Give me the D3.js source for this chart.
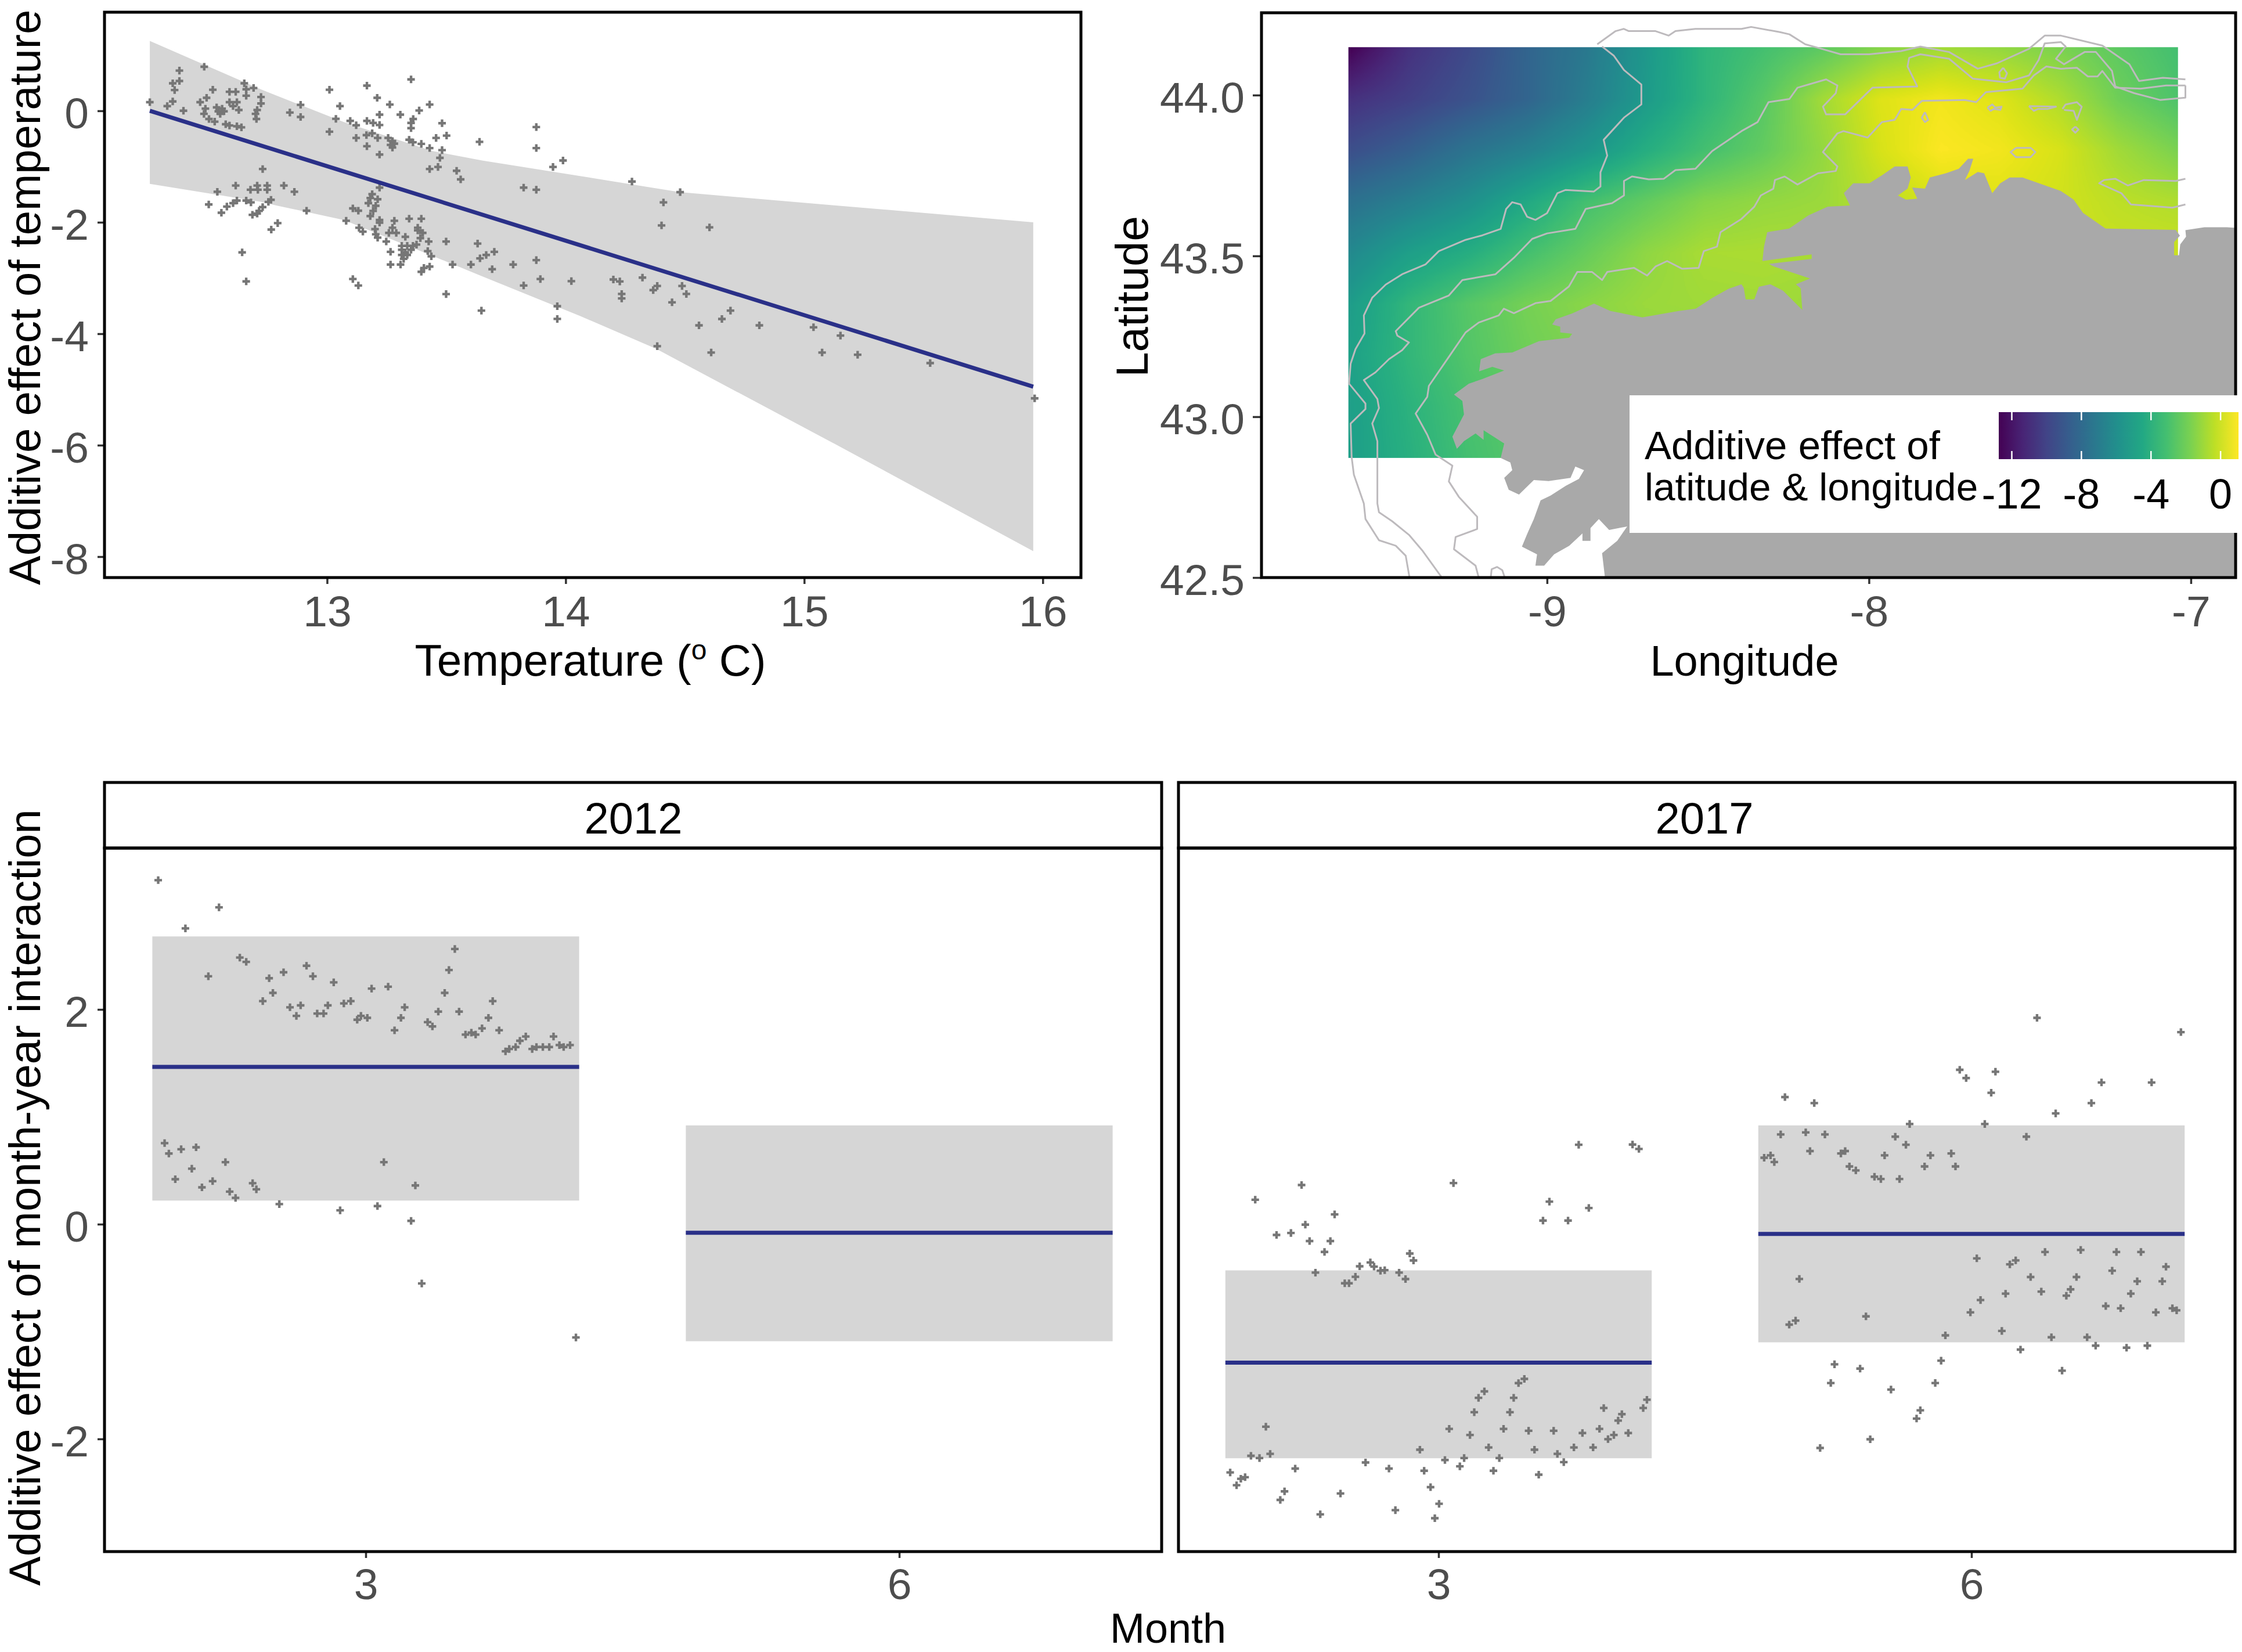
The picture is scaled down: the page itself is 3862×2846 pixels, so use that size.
<!DOCTYPE html>
<html>
<head>
<meta charset="utf-8">
<script src="https://cdn.jsdelivr.net/npm/d3@7"></script>
<style>
html,body{margin:0;padding:0;background:#fff}
svg{display:block}
text{font-family:"Liberation Sans",Arial,sans-serif}
</style>
</head>
<body>
<div id="chart"></div>
<script>
// ---------- Temperature panel ----------
const tempTicksX = [13,14,15,16];
const tempTicksY = [0,-2,-4,-6,-8];
const tempRibbonT = [12.257,12.72,12.79,13.07,13.44,13.65,14.06,14.38,14.48,15.125,15.96];
const tempRibbonUpper = [1.255,0.39,0.27,-0.2,-0.72,-0.89,-1.17,-1.39,-1.46,-1.695,-2.0];
const tempRibbonLower = [-1.31,-1.63,-1.70,-1.96,-2.6,-2.97,-3.68,-4.27,-4.5,-5.97,-7.9];
const tempLineT = [12.257,15.96];
const tempLineV = [0,-4.95];
const tempPoints = [[12.257,.155],[12.33,.085],[12.353,.169],[12.361,.373],[12.353,.494],[12.381,.722],[12.381,.536],[12.398,.002],[12.485,.791],[12.468,.155],[12.495,.234],[12.521,.378],[12.49,.039],[12.484,-.054],[12.505,-.147],[12.529,-.194],[12.544,-.008],[12.56,.039],[12.552,-.054],[12.568,-.008],[12.537,.062],[12.575,-.24],[12.591,-.263],[12.622,-.277],[12.641,-.296],[12.591,.341],[12.617,.341],[12.591,.155],[12.622,.155],[12.606,.085],[12.63,.015],[12.653,.494],[12.661,.387],[12.661,.271],[12.692,.41],[12.723,.248],[12.723,.132],[12.707,.015],[12.7,-.054],[12.704,-.147],[12.844,-.031],[12.889,.108],[12.889,-.11],[13.01,.378],[13.054,.085],[13.037,-.143],[13.01,-.375],[13.097,-.18],[13.122,-.259],[13.122,-.486],[13.167,.452],[13.21,.234],[13.167,-.18],[13.193,-.217],[13.22,-.254],[13.22,-.068],[13.263,.113],[13.307,-.068],[13.352,.564],[13.361,-.147],[13.352,-.217],[13.352,-.31],[13.386,.006],[13.43,.113],[13.482,-.222],[13.501,-.444],[13.457,-.486],[13.165,-.435],[13.189,-.403],[13.212,-.486],[13.167,-.635],[13.256,-.486],[13.274,-.542],[13.266,-.612],[13.282,-.589],[13.274,-.658],[13.22,-.784],[13.344,-.519],[13.36,-.565],[13.395,-.593],[13.43,-.668],[13.482,-.705],[13.473,-.844],[13.465,-1.007],[13.43,-1.044],[13.543,-1.076],[13.56,-1.23],[13.639,-.556],[13.877,-.291],[13.877,-.668],[13.947,-1.007],[13.989,-.891],[13.824,-1.378],[13.877,-1.416],
[12.73,-1.044],[12.617,-1.341],[12.54,-1.453],[12.679,-1.416],[12.707,-1.341],[12.71,-1.416],[12.749,-1.341],[12.749,-1.416],[12.819,-1.341],[12.863,-1.453],[12.504,-1.68],[12.622,-1.61],[12.606,-1.657],[12.58,-1.718],[12.557,-1.829],[12.661,-1.61],[12.681,-1.643],[12.765,-1.597],[12.754,-1.634],[12.73,-1.727],[12.715,-1.796],[12.707,-1.843],[12.687,-1.866],[12.914,-1.792],[12.793,-2.015],[12.766,-2.131],[12.644,-2.54],[12.661,-3.06],[13.22,-1.378],[13.189,-1.495],[13.181,-1.564],[13.173,-1.657],[13.212,-1.587],[13.204,-1.704],[13.193,-1.796],[13.181,-1.889],[13.108,-1.75],[13.131,-1.792],[13.08,-1.973],[13.134,-2.098],[13.15,-2.168],[13.22,-1.959],[13.22,-2.006],[13.282,-1.973],[13.344,-1.936],[13.395,-1.936],[13.201,-2.122],[13.204,-2.215],[13.212,-2.275],[13.248,-2.345],[13.259,-2.191],[13.274,-2.098],[13.29,-2.191],[13.38,-2.098],[13.38,-2.145],[13.401,-2.191],[13.391,-2.284],[13.328,-2.261],[13.375,-2.4],[13.426,-2.345],[13.313,-2.424],[13.336,-2.424],[13.36,-2.424],[13.313,-2.493],[13.328,-2.54],[13.352,-2.493],[13.266,-2.53],[13.313,-2.586],[13.336,-2.586],[13.321,-2.656],[13.266,-2.758],[13.308,-2.758],[13.422,-2.517],[13.437,-2.61],[13.395,-2.888],[13.406,-2.819],[13.43,-2.795],[13.499,-2.345],[13.526,-2.758],[13.499,-3.288],[13.603,-2.758],[13.631,-2.382],[13.641,-2.647],[13.667,-2.586],[13.701,-2.53],[13.692,-2.842],[13.78,-2.758],[13.877,-2.679],[13.894,-3.018],[13.824,-3.134],[14.024,-3.056],[13.647,-3.585],[13.965,-3.506],[13.965,-3.734],[13.108,-3.018],[13.131,-3.134],
[14.278,-1.269],[14.48,-1.459],[14.41,-1.643],[14.402,-2.056],[14.603,-2.091],[14.2,-3.027],[14.227,-3.062],[14.322,-2.993],[14.235,-3.286],[14.235,-3.366],[14.384,-3.142],[14.367,-3.217],[14.488,-3.142],[14.506,-3.286],[14.446,-3.436],[14.691,-3.585],[14.655,-3.735],[14.559,-3.849],[14.812,-3.849],[15.039,-3.884],[15.152,-4.033],[14.384,-4.223],[14.61,-4.337],[15.075,-4.337],[15.224,-4.377],[15.528,-4.526],[15.966,-5.159]];

// ---------- Map panel ----------
const mapTicksLon = [-9,-8,-7];
const mapTicksLat = [42.5,43.0,43.5,44.0];
const legendTicks = [-12,-8,-4,0];
const rasterLon = [-9.617,-7.04];
const rasterLat = [44.149,42.872];
const fieldValues = [
[-12.75,-10.82,-9.72,-8.34,-7.24,-5.45,-3.79,-3.10,-2.42,-1.45,-0.90,-1.18,-1.73,-2.42,-3.10],
[-10.82,-10.13,-9.30,-8.34,-6.96,-5.31,-3.79,-2.55,-0.90,0.34,0.75,0.34,-0.62,-2.00,-2.83],
[-9.44,-8.62,-7.51,-6.69,-5.58,-4.21,-3.10,-2.28,-1.18,0.20,0.96,0.75,0.20,-0.90,-1.73],
[-7.65,-6.82,-5.86,-4.48,-3.10,-2.30,-1.50,-1.20,-1.04,-0.35,0.20,0.34,0.07,-0.35,-0.62],
[-6.27,-5.03,-4.21,-3.10,-2.20,-1.30,-0.75,-0.70,-0.75,-0.76,-0.35,-0.07,-0.07,-0.07,-0.07],
[-5.17,-3.66,-2.60,-1.85,-1.40,-1.05,-0.95,-0.90,-1.04,-0.90,-0.62,-0.35,-0.35,-0.35,-0.35],
[-4.90,-3.66,-2.70,-2.00,-1.60,-1.30,-1.31,-1.18,-1.04,-0.90,-0.62,-0.35,-0.35,-0.35,-0.35],
[-5.03,-3.93,-2.97,-2.42,-2.00,-1.73,-1.50,-1.50,-1.50,-1.50,-1.50,-1.50,-1.50,-1.50,-1.50],
[-5.03,-4.07,-3.10,-2.55,-2.28,-2.00,-1.80,-1.80,-1.80,-1.80,-1.80,-1.80,-1.80,-1.80,-1.80]];
const landOutline = [[-8.82,42.5],[-8.829,42.576],[-8.782,42.614],[-8.751,42.659],[-8.807,42.648],[-8.839,42.682],[-8.865,42.654],[-8.865,42.614],[-8.89,42.614],[-8.89,42.637],[-8.931,42.599],[-8.978,42.572],[-9.009,42.537],[-9.036,42.537],[-9.031,42.572],[-9.078,42.596],[-9.061,42.637],[-9.041,42.682],[-9.02,42.74],[-8.989,42.755],[-8.942,42.785],[-8.901,42.807],[-8.885,42.834],[-8.912,42.845],[-8.927,42.81],[-8.995,42.8],[-9.041,42.803],[-9.087,42.758],[-9.119,42.773],[-9.133,42.81],[-9.108,42.834],[-9.114,42.858],[-9.144,42.872],[-9.133,42.917],[-9.197,42.958],[-9.197,42.928],[-9.222,42.948],[-9.258,42.924],[-9.28,42.9],[-9.294,42.938],[-9.258,43.007],[-9.263,43.049],[-9.289,43.069],[-9.243,43.103],[-9.201,43.117],[-9.133,43.144],[-9.17,43.155],[-9.211,43.141],[-9.206,43.179],[-9.161,43.197],[-9.108,43.2],[-9.025,43.235],[-8.931,43.246],[-8.922,43.258],[-8.959,43.262],[-8.959,43.28],[-8.984,43.287],[-8.973,43.303],[-8.922,43.321],[-8.854,43.352],[-8.803,43.329],[-8.704,43.309],[-8.591,43.329],[-8.538,43.336],[-8.486,43.37],[-8.436,43.398],[-8.396,43.412],[-8.389,43.401],[-8.383,43.365],[-8.356,43.365],[-8.342,43.404],[-8.306,43.412],[-8.267,43.392],[-8.207,43.332],[-8.212,43.399],[-8.227,43.412],[-8.183,43.43],[-8.297,43.468],[-8.311,43.475],[-8.178,43.491],[-8.178,43.505],[-8.331,43.484],[-8.326,43.529],[-8.316,43.574],[-8.248,43.585],[-8.188,43.626],[-8.128,43.653],[-8.059,43.657],[-8.078,43.695],[-8.049,43.726],[-7.999,43.726],[-7.959,43.751],[-7.92,43.778],[-7.88,43.778],[-7.87,43.744],[-7.88,43.709],[-7.91,43.688],[-7.885,43.675],[-7.85,43.678],[-7.866,43.713],[-7.826,43.709],[-7.811,43.744],[-7.761,43.757],[-7.721,43.771],[-7.692,43.802],[-7.676,43.802],[-7.688,43.764],[-7.702,43.736],[-7.662,43.761],[-7.642,43.757],[-7.617,43.695],[-7.592,43.726],[-7.563,43.744],[-7.523,43.744],[-7.404,43.702],[-7.364,43.675],[-7.335,43.634],[-7.265,43.585],[-7.047,43.581],[-7.034,43.563],[-7.052,43.543],[-7.052,43.502],[-7.037,43.502],[-7.033,43.536],[-7.015,43.56],[-7.017,43.58],[-6.958,43.589],[-6.888,43.589],[-6.827,43.585],[-6.827,42.5]];
const depthA = [[-8.844,44.158],[-8.787,44.199],[-8.762,44.206],[-8.746,44.199],[-8.663,44.199],[-8.622,44.185],[-8.601,44.199],[-8.539,44.206],[-8.396,44.206],[-8.366,44.212],[-8.277,44.196],[-8.247,44.189],[-8.198,44.158],[-8.158,44.147],[-8.088,44.127],[-7.999,44.127],[-7.9,44.137],[-7.84,44.151],[-7.751,44.134],[-7.662,44.082],[-7.602,44.099],[-7.503,44.144],[-7.454,44.185],[-7.404,44.185],[-7.275,44.154],[-7.191,44.096],[-7.161,44.044],[-7.087,44.054],[-7.017,44.049]];
const depthB = [[-8.829,44.151],[-8.793,44.123],[-8.761,44.078],[-8.707,44.033],[-8.707,43.971],[-8.761,43.93],[-8.824,43.861],[-8.813,43.812],[-8.834,43.76],[-8.834,43.716],[-8.855,43.7],[-8.943,43.705],[-8.968,43.695],[-9.0,43.633],[-9.036,43.612],[-9.062,43.622],[-9.082,43.66],[-9.108,43.667],[-9.127,43.646],[-9.144,43.584],[-9.201,43.564],[-9.253,43.55],[-9.336,43.515],[-9.377,43.474],[-9.45,43.443],[-9.501,43.411],[-9.543,43.37],[-9.569,43.315],[-9.567,43.259],[-9.595,43.21],[-9.61,43.165],[-9.615,43.103],[-9.564,43.041],[-9.564,43.024],[-9.61,42.979],[-9.607,42.875],[-9.6,42.82],[-9.569,42.73],[-9.564,42.682],[-9.522,42.616],[-9.47,42.599],[-9.439,42.568],[-9.427,42.499]];
const depthC = [[-9.326,42.499],[-9.388,42.585],[-9.429,42.633],[-9.481,42.675],[-9.522,42.703],[-9.527,42.73],[-9.527,42.924],[-9.543,42.979],[-9.522,43.027],[-9.527,43.055],[-9.569,43.114],[-9.533,43.138],[-9.491,43.179],[-9.45,43.207],[-9.429,43.231],[-9.465,43.252],[-9.47,43.266],[-9.398,43.339],[-9.305,43.377],[-9.263,43.425],[-9.16,43.443],[-9.103,43.494],[-9.046,43.553],[-9.0,43.57],[-8.912,43.584],[-8.88,43.646],[-8.798,43.664],[-8.761,43.688],[-8.761,43.733],[-8.736,43.747],[-8.684,43.738],[-8.637,43.74],[-8.601,43.767],[-8.539,43.771],[-8.487,43.826],[-8.396,43.888],[-8.346,43.916],[-8.312,43.978],[-8.247,43.988],[-8.222,44.023],[-8.133,44.049],[-8.098,44.03],[-8.103,44.006],[-8.143,43.964],[-8.133,43.94],[-8.074,43.94],[-7.989,44.023],[-7.85,44.027],[-7.88,44.089],[-7.875,44.116],[-7.84,44.127],[-7.751,44.113],[-7.677,44.051],[-7.573,44.04],[-7.503,44.061],[-7.473,44.109],[-7.454,44.161],[-7.404,44.165],[-7.389,44.151],[-7.419,44.113],[-7.394,44.096],[-7.33,44.134],[-7.295,44.134],[-7.245,44.075],[-7.235,44.027],[-7.176,44.006],[-7.096,43.985],[-7.017,43.992],[-7.017,44.03]];
const depthD = [[-9.212,42.499],[-9.222,42.537],[-9.289,42.588],[-9.284,42.626],[-9.217,42.651],[-9.217,42.689],[-9.274,42.751],[-9.305,42.799],[-9.294,42.848],[-9.346,42.882],[-9.372,42.944],[-9.408,43.01],[-9.372,43.062],[-9.367,43.096],[-9.305,43.186],[-9.253,43.262],[-9.212,43.293],[-9.15,43.315],[-9.134,43.336],[-9.103,43.322],[-9.036,43.353],[-8.989,43.36],[-8.932,43.405],[-8.906,43.45],[-8.86,43.45],[-8.829,43.425],[-8.813,43.45],[-8.73,43.463],[-8.689,43.439],[-8.663,43.467],[-8.627,43.484],[-8.58,43.46],[-8.529,43.463],[-8.513,43.515],[-8.472,43.529],[-8.461,43.574],[-8.396,43.615],[-8.356,43.653],[-8.336,43.688],[-8.297,43.709],[-8.292,43.736],[-8.262,43.747],[-8.222,43.722],[-8.158,43.757],[-8.103,43.764],[-8.098,43.778],[-8.143,43.823],[-8.098,43.881],[-8.079,43.888],[-8.004,43.868],[-7.96,43.916],[-7.92,43.923],[-7.9,43.957],[-7.865,43.954],[-7.836,43.982],[-7.702,43.985],[-7.667,43.978],[-7.637,44.009],[-7.523,44.02],[-7.488,44.061],[-7.449,44.089],[-7.404,44.082],[-7.354,44.085],[-7.32,44.058],[-7.29,44.058],[-7.275,44.075],[-7.235,44.023],[-7.156,44.02],[-7.077,44.03],[-7.017,44.03]];
const depthE = [[-7.017,43.74],[-7.047,43.733],[-7.146,43.736],[-7.196,43.719],[-7.235,43.74],[-7.27,43.736],[-7.285,43.726],[-7.216,43.695],[-7.186,43.66],[-7.057,43.65],[-7.017,43.66]];
const depthIslets = [
[[-7.826,43.947],[-7.816,43.923],[-7.826,43.916],[-7.836,43.93],[-7.826,43.947]],
[[-7.632,43.961],[-7.617,43.971],[-7.607,43.961],[-7.588,43.964],[-7.592,43.954],[-7.612,43.957],[-7.622,43.951],[-7.632,43.961]],
[[-7.503,43.966],[-7.419,43.964],[-7.444,43.957],[-7.474,43.957],[-7.488,43.951],[-7.503,43.966]],
[[-7.399,43.957],[-7.389,43.971],[-7.354,43.978],[-7.339,43.964],[-7.354,43.923],[-7.364,43.951],[-7.394,43.954]],
[[-7.359,43.902],[-7.349,43.893],[-7.359,43.883],[-7.369,43.893],[-7.359,43.902]],
[[-7.543,43.836],[-7.498,43.836],[-7.483,43.823],[-7.498,43.807],[-7.543,43.807],[-7.56,43.823],[-7.543,43.836]],
[[-7.583,44.085],[-7.571,44.068],[-7.578,44.051],[-7.593,44.054],[-7.595,44.071],[-7.583,44.085]],
[[-9.175,42.499],[-9.172,42.526],[-9.155,42.533],[-9.139,42.523],[-9.131,42.499]]];

// ---------- Month-year panels ----------
const facetYears = ["2012","2017"];
const monthTicks = [3,6];
const monthTicksY = [2,0,-2];
const ribbon2012 = [[2.68,1.465,0.22],[0.92,-0.08,-1.09]];
const ribbon2017 = [[-0.43,-1.29,-2.18],[0.92,-0.09,-1.10]];
const points2012 = [[.611,3.204],[.725,2.951],[.662,2.755],[.705,2.309],[.764,2.483],[.776,2.443],[.819,2.291],[.846,2.346],[.807,2.078],[.826,2.154],[.858,2.02],[.87,1.94],[.878,2.038],[.889,2.407],[.901,2.309],[.909,1.962],[.921,1.962],[.929,2.038],[.94,2.252],[.959,2.056],[.972,2.078],[.984,1.904],[.991,1.94],[1.003,1.922],[1.011,2.194],[1.042,2.212],[1.054,1.806],[1.066,1.922],[1.073,2.02],[1.116,1.882],[1.125,1.842],[1.136,1.98],[1.148,2.154],[1.156,2.367],[1.167,2.563],[1.175,1.98],[1.187,1.766],[1.198,1.784],[1.206,1.766],[1.218,1.824],[1.23,1.922],[1.238,2.078],[1.25,1.806],[1.262,1.61],[1.269,1.632],[1.281,1.65],[1.289,1.708],[1.3,1.748],[1.312,1.632],[1.32,1.65],[1.332,1.65],[1.344,1.65],[1.352,1.748],[1.363,1.668],[1.371,1.65],[1.383,1.668],[.623,.755],[.631,.658],[.654,.698],[.682,.716],[.674,.517],[.643,.419],[.693,.343],[.713,.401],[.737,.578],[.745,.303],[.756,.245],[.788,.382],[.795,.325],[.838,.187],[.952,.129],[1.022,.169],[1.034,.578],[1.093,.361],[1.085,.031],[1.105,-.552],[1.394,-1.055]];
const points2017 = [[.609,-2.312],[.621,-2.431],[.629,-2.371],[.637,-2.356],[.648,-2.157],[.664,-2.178],[.684,-2.139],[.676,-1.886],[.711,-2.488],[.703,-2.568],[.731,-2.276],[.778,-2.702],[.816,-2.508],[.863,-2.219],[.907,-2.276],[.919,-2.663],[.965,-2.1],[.973,-2.296],[.985,-2.449],[1.001,-2.604],[.993,-2.738],[1.02,-1.906],[1.012,-2.196],[1.04,-2.255],[1.048,-2.178],[1.059,-1.963],[1.067,-1.751],[1.075,-1.617],[1.086,-1.557],[1.094,-2.079],[1.103,-2.296],[1.114,-2.178],[1.122,-1.906],[1.134,-1.751],[1.141,-1.617],[1.15,-1.48],[1.161,-1.441],[1.169,-1.924],[1.18,-2.1],[1.188,-2.333],[1.216,-1.924],[1.223,-2.139],[1.235,-2.216],[1.254,-2.079],[1.27,-1.945],[1.29,-2.079],[1.302,-1.906],[1.31,-1.712],[1.318,-2.002],[1.329,-1.963],[1.337,-1.829],[1.344,-1.769],[1.356,-1.945],[1.384,-1.712],[1.391,-1.635],[.656,.228],[.743,.365],[.696,-.1],[.723,-.082],[.75,-.004],[.758,-.157],[.797,-.157],[.805,.091],[.786,-.258],[.769,-.451],[.824,-.55],[.832,-.55],[.844,-.49],[.852,-.392],[.872,-.356],[.879,-.395],[.891,-.433],[.899,-.428],[.926,-.451],[.938,-.511],[.946,-.273],[.953,-.338],[1.028,.383],[1.196,.034],[1.208,.21],[1.243,.034],[1.263,.74],[1.282,.151],[1.364,.742],[1.376,.701],
[1.611,.619],[1.623,.641],[1.63,.579],[1.642,.836],[1.65,1.184],[1.689,.855],[1.697,.681],[1.705,1.128],[1.725,.836],[1.755,.659],[1.763,.681],[1.771,.538],[1.783,.501],[1.818,.442],[1.83,.421],[1.837,.641],[1.857,.815],[1.865,.421],[1.877,.74],[1.884,.933],[1.912,.538],[1.923,.641],[1.962,.659],[1.97,.538],[1.978,1.438],[1.99,1.361],[2.025,.933],[2.037,1.224],[2.045,1.42],[2.103,.815],[2.123,1.922],[2.158,1.032],[2.225,1.128],[2.244,1.32],[2.338,1.32],[2.393,1.789],[1.677,-.51],[1.658,-.935],[1.67,-.898],[1.802,-.858],[1.743,-1.305],[1.736,-1.479],[1.791,-1.345],[1.849,-1.54],[1.932,-1.479],[1.943,-1.271],[1.951,-1.035],[1.904,-1.733],[1.897,-1.81],[1.81,-2.003],[1.716,-2.084],[1.998,-.821],[2.017,-.706],[2.01,-.318],[2.072,-.374],[2.083,-.337],[2.064,-.647],[2.057,-.994],[2.092,-1.168],[2.111,-.492],[2.131,-.628],[2.138,-.259],[2.15,-1.053],[2.17,-1.364],[2.178,-.666],[2.186,-.607],[2.197,-.492],[2.205,-.24],[2.217,-1.053],[2.233,-1.131],[2.252,-.762],[2.264,-.433],[2.272,-.259],[2.28,-.783],[2.291,-1.15],[2.299,-.647],[2.311,-.532],[2.318,-.259],[2.33,-1.131],[2.346,-.821],[2.358,-.532],[2.365,-.396],[2.377,-.783],[2.385,-.802]];

// ---------- Styles ----------
const RIBBON="#d6d6d6", LINE="#2a3088", POINT="#767676", AXIS="#333333", TICKTXT="#4d4d4d", LAND="#a9a9a9", DEPTH="#bdbabd";
const TICK_FS=75;

const svg=d3.select("#chart").append("svg").attr("width",3862).attr("height",2846).style("background","#fff");
const pointSym=d3.symbol().type(d3.symbolCross).size(95);

function styleAxis(g,left){
  g.select(".domain").remove();
  g.selectAll(".tick line").attr("stroke",AXIS).attr("stroke-width",3.5);
  const t=g.selectAll(".tick text").attr("fill",TICKTXT).style("font-size",TICK_FS+"px").style("font-family",'"Liberation Sans",Arial,sans-serif');
  if(left) t.attr("dy","0.39em");
}
function frame(x0,y0,x1,y1){
  svg.append("rect").attr("x",x0).attr("y",y0).attr("width",x1-x0).attr("height",y1-y0)
    .attr("fill","none").attr("stroke","#000").attr("stroke-width",5);
}
function drawPoints(data,x,y){
  svg.append("g").selectAll("path").data(data).join("path")
    .attr("d",pointSym).attr("fill",POINT)
    .attr("transform",d=>`translate(${x(d[0])},${y(d[1])})`);
}
function titleText(txt,x,y,size,rot,anchor){
  return svg.append("text").attr("text-anchor",anchor||"middle").attr("fill","#000").style("font-size",size+"px")
    .attr("transform",`translate(${x},${y})`+(rot?` rotate(${rot})`:"")).text(txt);
}

// ===== Panel A =====
{
  const x=d3.scaleLinear().domain([12.067,16.16]).range([180,1862]);
  const y=d3.scaleLinear().domain([-8.375,1.77]).range([995,21]);
  const area=d3.area().x((d,i)=>x(d)).y0((d,i)=>y(tempRibbonLower[i])).y1((d,i)=>y(tempRibbonUpper[i]));
  svg.append("path").attr("d",area(tempRibbonT)).attr("fill",RIBBON);
  drawPoints(tempPoints,x,y);
  svg.append("path").attr("d",d3.line().x((d,i)=>x(d)).y((d,i)=>y(tempLineV[i]))(tempLineT))
    .attr("fill","none").attr("stroke",LINE).attr("stroke-width",7);
  const ax=svg.append("g").attr("transform","translate(0,995)").call(d3.axisBottom(x).tickValues(tempTicksX).tickSize(11).tickPadding(20).tickFormat(d3.format("d")));
  styleAxis(ax);
  const ay=svg.append("g").attr("transform","translate(180,0)").call(d3.axisLeft(y).tickValues(tempTicksY).tickSize(12).tickPadding(15).tickFormat(d=>String(d)));
  styleAxis(ay,true);
  frame(180,21,1862,995);
  const t=svg.append("text").attr("text-anchor","middle").attr("fill","#000").style("font-size","76.5px").attr("x",1017).attr("y",1164);
  t.append("tspan").text("Temperature (");
  t.append("tspan").attr("dy",-28).style("font-size","48px").text("o");
  t.append("tspan").attr("dy",28).text(" C)");
  titleText("Additive effect of temperature",69,1008,76,-90,"start");
}

// ===== Panel B =====
{
  const x=d3.scaleLinear().domain([-9.887,-6.861]).range([2173,3851]);
  const y=d3.scaleLinear().domain([42.5,44.256]).range([995,22]);
  const color=d3.scaleSequential(d3.interpolateViridis).domain([-12.75,1.03]);
  const defs=svg.append("defs");
  defs.append("clipPath").attr("id","mapclip").append("rect").attr("x",2173).attr("y",22).attr("width",1678).attr("height",973);

  // raster: the read-off grid, shaded smoothly between its nodes
  const rx0=x(rasterLon[0]), rx1=x(rasterLon[1]), ry0=y(rasterLat[0]), ry1=y(rasterLat[1]);
  const cw=Math.round((rx1-rx0)/2), ch=Math.round((ry1-ry0)/2);
  const cv=document.createElement("canvas"); cv.width=cw; cv.height=ch;
  const ctx=cv.getContext("2d"); const img=ctx.createImageData(cw,ch);
  const nr=fieldValues.length, nc=fieldValues[0].length;
  for(let j=0;j<ch;j++){
    const fy=j/(ch-1)*(nr-1), j0=Math.min(nr-2,Math.floor(fy)), ty=fy-j0;
    for(let i=0;i<cw;i++){
      const fx=i/(cw-1)*(nc-1), i0=Math.min(nc-2,Math.floor(fx)), tx=fx-i0;
      const v=(fieldValues[j0][i0]*(1-tx)+fieldValues[j0][i0+1]*tx)*(1-ty)+(fieldValues[j0+1][i0]*(1-tx)+fieldValues[j0+1][i0+1]*tx)*ty;
      const c=d3.rgb(color(v)), k=(j*cw+i)*4;
      img.data[k]=c.r; img.data[k+1]=c.g; img.data[k+2]=c.b; img.data[k+3]=255;
    }
  }
  ctx.putImageData(img,0,0);
  svg.append("image").attr("href",cv.toDataURL()).attr("x",rx0).attr("y",ry0).attr("width",rx1-rx0).attr("height",ry1-ry0).attr("preserveAspectRatio","none");

  const g=svg.append("g").attr("clip-path","url(#mapclip)");
  const line=d3.line().x(d=>x(d[0])).y(d=>y(d[1]));
  g.selectAll("path.depth").data([depthA,depthB,depthC,depthD,depthE,...depthIslets]).join("path").attr("class","depth")
    .attr("d",line).attr("fill","none").attr("stroke",DEPTH).attr("stroke-width",3).attr("stroke-linejoin","round");
  g.append("path").attr("d",line(landOutline)+"Z").attr("fill",LAND);

  const ax=svg.append("g").attr("transform","translate(0,995)").call(d3.axisBottom(x).tickValues(mapTicksLon).tickSize(11).tickPadding(20).tickFormat(d=>String(d)));
  styleAxis(ax);
  const ay=svg.append("g").attr("transform","translate(2173,0)").call(d3.axisLeft(y).tickValues(mapTicksLat).tickSize(15).tickPadding(14).tickFormat(d3.format(".1f")));
  styleAxis(ay,true);
  frame(2173,22,3851,995);
  titleText("Longitude",3005,1164,74);
  titleText("Latitude",1977,511,78,-90);

  // legend
  svg.append("rect").attr("x",2807).attr("y",681).attr("width",1060).attr("height",237).attr("fill","#fff");
  const lg=defs.append("linearGradient").attr("id","vir");
  const lx=d3.scaleLinear().domain([-12.75,1.03]).range([3443,3856]);
  d3.range(0,1.001,0.1).forEach(f=>lg.append("stop").attr("offset",f).attr("stop-color",d3.interpolateViridis(f)));
  svg.append("rect").attr("x",lx(-12.75)).attr("y",710).attr("width",lx(1.03)-lx(-12.75)).attr("height",81).attr("fill","url(#vir)");
  svg.append("g").selectAll("path").data(legendTicks).join("path")
    .attr("d",d=>`M${lx(d)},710v14M${lx(d)},791v-14`).attr("stroke","#fff").attr("stroke-width",2.5);
  svg.append("g").selectAll("text").data(legendTicks).join("text")
    .attr("x",d=>lx(d)).attr("y",876).attr("text-anchor","middle").attr("fill","#000").style("font-size","72px").text(d=>String(d));
  svg.append("text").attr("x",2833).attr("y",791).attr("fill","#000").style("font-size","69px").text("Additive effect of");
  svg.append("text").attr("x",2833).attr("y",862).attr("fill","#000").style("font-size","67.5px").text("latitude & longitude");
}

// ===== Panels C =====
{
  const y=d3.scaleLinear().domain([-3.049,3.503]).range([2673,1461]);
  const facets=[
    {year:facetYears[0],l:180,r:2001,cx:1091,x3:630,x6:1549,rib:ribbon2012,pts:points2012},
    {year:facetYears[1],l:2030,r:3850,cx:2936,x3:2478,x6:3396,rib:ribbon2017,pts:points2017}];
  facets.forEach((f,fi)=>{
    const x=d3.scaleLinear().domain([1,2]).range([f.x3,f.x6]);
    f.rib.forEach((r,i)=>{
      const c=i+1;
      svg.append("rect").attr("x",x(c-0.4)).attr("width",x(c+0.4)-x(c-0.4)).attr("y",y(r[0])).attr("height",y(r[2])-y(r[0])).attr("fill",RIBBON);
    });
    drawPoints(f.pts,x,y);
    f.rib.forEach((r,i)=>{
      const c=i+1;
      svg.append("line").attr("x1",x(c-0.4)).attr("x2",x(c+0.4)).attr("y1",y(r[1])).attr("y2",y(r[1])).attr("stroke",LINE).attr("stroke-width",7);
    });
    const xc=d3.scaleOrdinal().domain(monthTicks).range([f.x3,f.x6]);
    const ax=svg.append("g").attr("transform","translate(0,2673)").call(d3.axisBottom(xc).tickSize(11).tickPadding(18));
    styleAxis(ax);
    if(fi===0){
      const ay=svg.append("g").attr("transform",`translate(${f.l},0)`).call(d3.axisLeft(y).tickValues(monthTicksY).tickSize(12).tickPadding(15).tickFormat(d=>String(d)));
      styleAxis(ay,true);
    }
    frame(f.l,1461,f.r,2673);
    frame(f.l,1348,f.r,1461);
    svg.append("text").attr("x",f.cx).attr("y",1436).attr("text-anchor","middle").attr("fill","#000").style("font-size","76px").text(f.year);
  });
  titleText("Month",2012,2830,72);
  titleText("Additive effect of month-year interaction",69,2732,76,-90,"start");
}
</script>
</body>
</html>
